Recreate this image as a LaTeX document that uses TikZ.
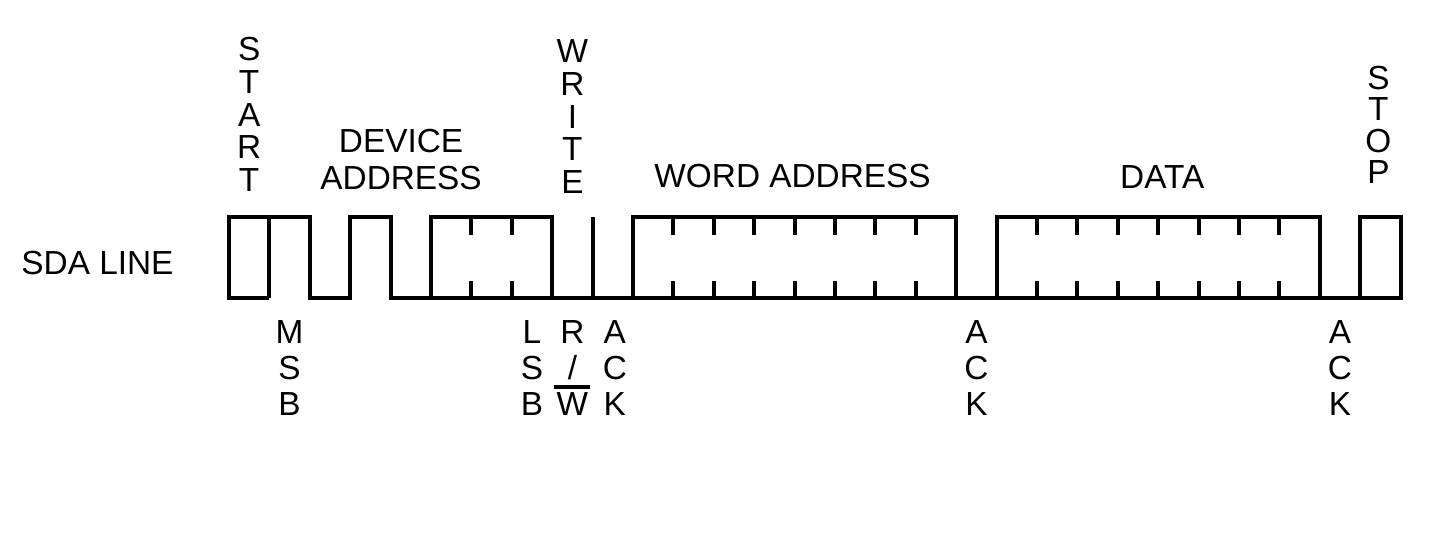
\documentclass[tikz,border=0pt]{standalone}
\usepackage{fontspec}
\setmainfont{Liberation Sans}
\newcommand{\barred}[1]{\vbox{\hrule height 2.2pt\kern 3pt\hbox to 1.08em{\hss#1\hss}}}
\tikzset{
    lbl/.style={inner sep=0pt, align=center},
    toplbl/.style={lbl, anchor=south, font=\fontsize{23.5}{22.9}\selectfont},
    botlbl/.style={lbl, anchor=north, font=\fontsize{23.5}{25.3}\selectfont}
}
\begin{document}
\begin{tikzpicture}[line width=2.7pt, font=\fontsize{23.5}{26}\selectfont]
    \useasboundingbox (-5.668,-6.238) rectangle (30.223,7.376);
    \draw (1, 0) -- (0, 0) -- (0, 2) -- (2, 2) -- (2, 0) -- (3, 0) -- (3, 2) -- (4, 2) -- (4, 0) -- (29, 0);
    \draw (1, 0) -- (1, 2);
    \draw (5, 0) rectangle (8, 2);
    \draw (9, 0) -- (9, 2);
    \draw (10, 0) rectangle (18, 2);
    \draw (19, 0) rectangle (27, 2);
    \draw (28, 0) rectangle (29, 2);
    \foreach \x in {6, 7, 11, 12, ..., 17, 20, 21, ..., 26} {
       \draw (\x, 0) -- (\x, .43);
       \draw (\x, 2) -- (\x, 1.57);
    }
    \node[lbl, anchor=base] (sda) at (-3.255, .57) {SDA LINE};
    \node[toplbl] (start) at (.5, 2.6) {S\\T\\A\\R\\T};
    \node[lbl, anchor=south] (devaddr) at (4.26, 2.62) {DEVICE\\ADDRESS};
    \node[toplbl] (write) at (8.5, 2.55) {W\\R\\I\\T\\E};
    \node[lbl, anchor=south] (wordaddr) at (13.95, 2.67) {WORD ADDRESS};
    \node[lbl, anchor=south] (data) at (23.1, 2.67) {DATA};
    \node[toplbl, font=\fontsize{23.5}{22.2}\selectfont] (stop) at (28.45, 2.78) {S\\T\\O\\P};
    \node[botlbl] (msb) at (1.5, -.52) {M\\S\\B};
    \node[botlbl] (lsb) at (7.5, -.52) {L\\S\\B};
    \node[botlbl] (rw) at (8.5, -.52) {R\\/\\\barred{W}};
    \node[botlbl] (ack1) at (9.55, -.52) {A\\C\\K};
    \node[botlbl] (ack2) at (18.5, -.52) {A\\C\\K};
    \node[botlbl] (ack3) at (27.5, -.52) {A\\C\\K};
\end{tikzpicture}
\end{document}
